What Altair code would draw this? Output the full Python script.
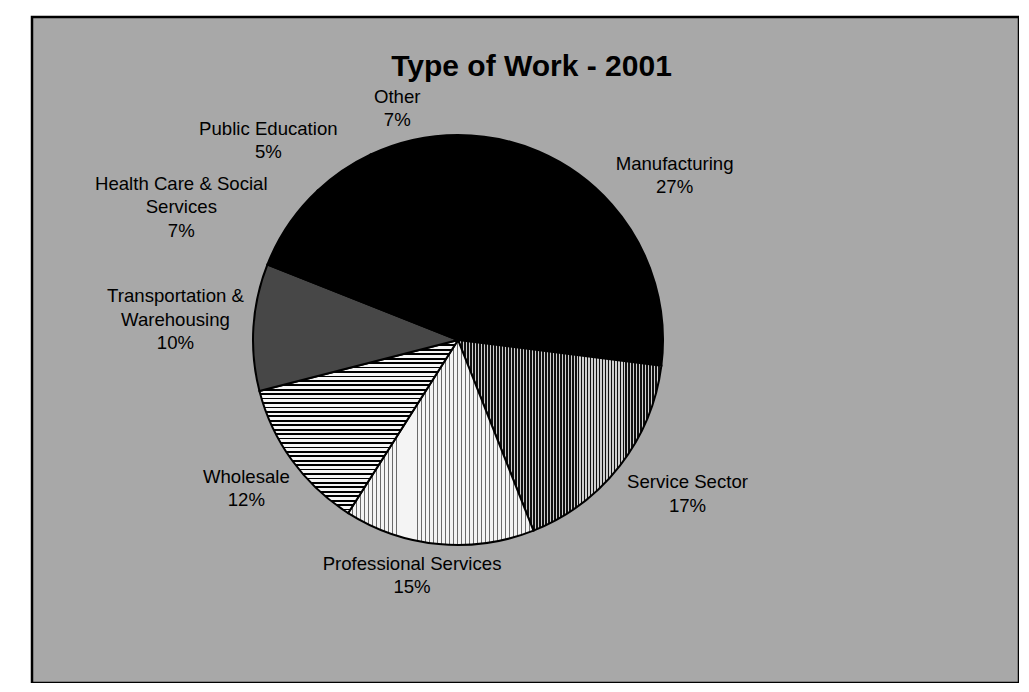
import math
import altair as alt
import pandas as pd

# ---- data -------------------------------------------------------------
categories = ["Manufacturing", "Service Sector", "Professional Services", "Wholesale",
              "Transportation & Warehousing", "Health Care & Social Services",
              "Public Education", "Other"]
shares = [27, 17, 15, 12, 10, 7, 5, 7]
label_text = ["Manufacturing", "Service Sector", "Professional Services", "Wholesale",
              "Transportation &\nWarehousing", "Health Care & Social\nServices",
              "Public Education", "Other"]

df = pd.DataFrame({"category": categories, "share": shares, "label": label_text})
df["order"] = range(len(df))
df["txt"] = [f"{l}\n{s}%" for l, s in zip(label_text, shares)]
df["nlines"] = [t.count("\n") + 1 for t in df["txt"]]
df["maxlen"] = [max(len(p) for p in t.split("\n")) for t in df["txt"]]

# ---- styles --------------------------------------------------------------
def stripes(n, dark, light, frac, vertical):
    stops = []
    for k in range(n):
        a = k / n
        b = (k + frac) / n
        c = (k + 1) / n
        stops += [alt.GradientStop(color=dark, offset=a),
                  alt.GradientStop(color=dark, offset=b),
                  alt.GradientStop(color=light, offset=b),
                  alt.GradientStop(color=light, offset=c)]
    if vertical:  # vertical lines -> gradient runs along x
        return alt.LinearGradient(gradient="linear", stops=stops, x1=0, y1=0, x2=1, y2=0)
    return alt.LinearGradient(gradient="linear", stops=stops, x1=0, y1=0, x2=0, y2=1)

fills = {
    "Manufacturing": "#000000",
    "Service Sector": stripes(68, "#111111", "#cfcfcf", 0.62, True),
    "Professional Services": stripes(46, "#6a6a6a", "#f4f4f4", 0.22, True),
    "Wholesale": stripes(39, "#000000", "#f6f6f6", 0.40, False),
    "Transportation & Warehousing": "#474747",
    "Health Care & Social Services": "#000000",
    "Public Education": "#000000",
    "Other": "#000000",
}

CX, CY = 426, 323
R = 205
D = R + 8          # distance of a label box from the pie centre
GAP = 8            # vertical gap between colliding labels
FS = 18.6
LH = 23.5
theta_scale = alt.Scale(domain=[0, 100], range=[0, 2 * math.pi])

base = (
    alt.Chart(df)
    .transform_window(cum="sum(share)", frame=[None, 0], sort=[alt.SortField("order")])
    .transform_calculate(start="datum.cum - datum.share",
                         mid="datum.cum - datum.share / 2")
)

layers = []
for cat in categories:
    layers.append(
        base.transform_filter(alt.datum.category == cat)
        .mark_arc(radius=R, fill=fills[cat], stroke="black", strokeWidth=2)
        .encode(
            theta=alt.Theta("start:Q", scale=theta_scale),
            theta2="cum:Q",
            x=alt.value(CX),
            y=alt.value(CY),
        )
    )

# label boxes: the corner/edge of each label box facing the pie sits just
# outside the rim in the direction of the slice's middle angle; a label on the
# left that would collide with the next label above it is pushed down and out
labels = (
    base.transform_calculate(ang="datum.mid / 100 * 2 * PI")
    .transform_calculate(ux="sin(datum.ang)", uy="-cos(datum.ang)",
                         hw=f"datum.maxlen * {FS * 0.235}",
                         hh=f"datum.nlines * {LH / 2}")
    .transform_calculate(
        cx0=f"{D} * datum.ux + datum.hw * clamp(3 * datum.ux, -1, 1)",
        cy0=f"{D} * datum.uy + datum.hh * clamp(3 * datum.uy, -1, 1)",
    )
    .transform_window(
        ncx="lead(cx0)", ncy="lead(cy0)", nhw="lead(hw)", nhh="lead(hh)",
        sort=[alt.SortField("order")],
    )
    .transform_calculate(
        push=(f"datum.ux < 0 && isValid(datum.ncy) && "
              f"abs(datum.cx0 - datum.ncx) < datum.hw + datum.nhw && "
              f"(datum.cy0 - datum.hh) < (datum.ncy + datum.nhh + {GAP})")
    )
    .transform_calculate(
        cy1=f"datum.push ? datum.ncy + datum.nhh + datum.hh + {GAP} : datum.cy0"
    )
    .transform_calculate(
        ny=("datum.cy1 - datum.hh > 0 ? datum.cy1 - datum.hh : "
            "(datum.cy1 + datum.hh < 0 ? -(datum.cy1 + datum.hh) : 0)")
    )
    .transform_calculate(
        cx1=(f"datum.push ? min(datum.cx0, -(sqrt(max({D * D} - datum.ny * datum.ny, 0)) + datum.hw))"
             " : datum.cx0")
    )
    .transform_calculate(
        px="datum.cx1",
        py=f"datum.cy1 - (datum.nlines - 1) * {LH / 2}",
    )
    .transform_calculate(
        tpos="atan2(datum.px, -datum.py) / (2 * PI) * 100",
        lr="sqrt(datum.px * datum.px + datum.py * datum.py)",
    )
    .mark_text(font="Liberation Sans", fontSize=FS, lineBreak="\n", lineHeight=LH,
               align="center", baseline="middle", color="black")
    .encode(
        theta=alt.Theta("tpos:Q", scale=theta_scale),
        radius=alt.Radius("lr:Q", scale=None),
        text="txt:N",
        x=alt.value(CX),
        y=alt.value(CY),
    )
)

chart = (
    alt.layer(*layers, labels)
    .properties(
        width=987,
        height=666,
        autosize="none",
        padding={"left": 24, "top": 9, "right": 0, "bottom": 0},
        title=alt.TitleParams(
            text="Type of Work - 2001",
            font="Liberation Sans",
            fontSize=30,
            fontWeight="bold",
            color="black",
            anchor="middle",
            frame="group",
            baseline="alphabetic",
            offset=-56,
            dx=6,
            dy=33,
        ),
    )
    .configure_view(fill="#a8a8a8", stroke="black", strokeWidth=2.5)
)

chart.save("out.html", embed_options={"renderer": "svg", "actions": False})
